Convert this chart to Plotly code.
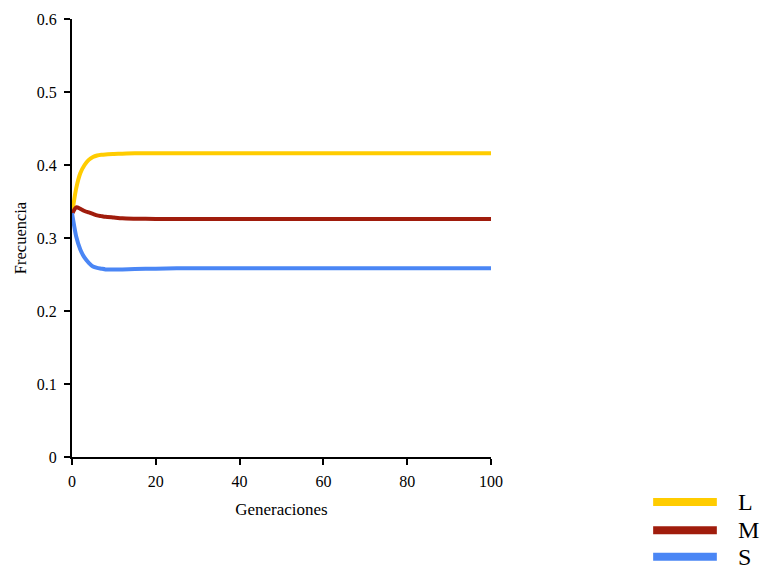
import plotly.graph_objects as go

generations = [0, 1, 2, 3, 4, 5, 6, 7, 8, 10, 12, 15, 20, 25, 30, 40, 50, 60, 70, 80, 90, 100]
freq_L = [0.333, 0.368, 0.389, 0.400, 0.407, 0.411, 0.413, 0.414, 0.4145, 0.415, 0.4155, 0.416, 0.416, 0.416, 0.416, 0.416, 0.416, 0.416, 0.416, 0.416, 0.416, 0.416]
freq_M = [0.333, 0.342, 0.340, 0.337, 0.335, 0.333, 0.331, 0.330, 0.329, 0.328, 0.327, 0.3265, 0.326, 0.326, 0.326, 0.326, 0.326, 0.326, 0.326, 0.326, 0.326, 0.326]
freq_S = [0.334, 0.302, 0.284, 0.273, 0.266, 0.261, 0.259, 0.258, 0.257, 0.257, 0.257, 0.2575, 0.258, 0.2585, 0.2585, 0.2585, 0.2585, 0.2585, 0.2585, 0.2585, 0.2585, 0.2585]

series_names = ["L", "M", "S"]
series_colors = ["#FFCC00", "#A01C0C", "#4A86F5"]
series_values = [freq_L, freq_M, freq_S]

x_ticks = [0, 20, 40, 60, 80, 100]
y_ticks = [0, 0.1, 0.2, 0.3, 0.4, 0.5, 0.6]
y_tick_labels = ["0", "0.1", "0.2", "0.3", "0.4", "0.5", "0.6"]

fig = go.Figure()
for name, col, vals in zip(series_names, series_colors, series_values):
    fig.add_trace(go.Scatter(x=generations, y=vals, mode="lines", name=name,
                             line=dict(color=col, width=4, shape="spline", smoothing=0.6),
                             showlegend=False))

font_family = "Liberation Serif, Times New Roman, serif"
fig.update_layout(
    width=764, height=578,
    margin=dict(l=72, r=273, t=19, b=121),
    paper_bgcolor="white", plot_bgcolor="white",
    font=dict(family=font_family, color="black", size=16),
    xaxis=dict(range=[0, 100], tickvals=x_ticks, ticks="outside", ticklen=6, tickwidth=2,
               tickcolor="black", showline=True, linecolor="black", linewidth=2,
               showgrid=False, zeroline=False, automargin=False, ticklabelstandoff=3,
               title=dict(text="Generaciones", font=dict(size=17), standoff=14),
               tickfont=dict(size=16)),
    yaxis=dict(range=[0, 0.6], tickvals=y_ticks, ticktext=y_tick_labels, ticks="outside",
               ticklen=6, tickwidth=2, tickcolor="black", showline=True, linecolor="black",
               linewidth=2, showgrid=False, zeroline=False, automargin=False,
               ticklabelstandoff=4,
               title=dict(text="Frecuencia", font=dict(size=16.5), standoff=6),
               tickfont=dict(size=16)),
)

# custom legend
legend_y = [-0.103, -0.167, -0.228]
for name, col, ly in zip(series_names, series_colors, legend_y):
    fig.add_shape(type="line", xref="paper", yref="paper", x0=1.387, x1=1.539, y0=ly, y1=ly,
                  line=dict(color=col, width=8))
    fig.add_annotation(xref="paper", yref="paper", x=1.584, y=ly, text=name, showarrow=False,
                       xanchor="left", yanchor="middle", font=dict(size=24, family=font_family))

fig.write_html("out.html", config={"displayModeBar": False},
               post_script="document.body.style.margin='0';document.body.style.overflow='hidden';")
